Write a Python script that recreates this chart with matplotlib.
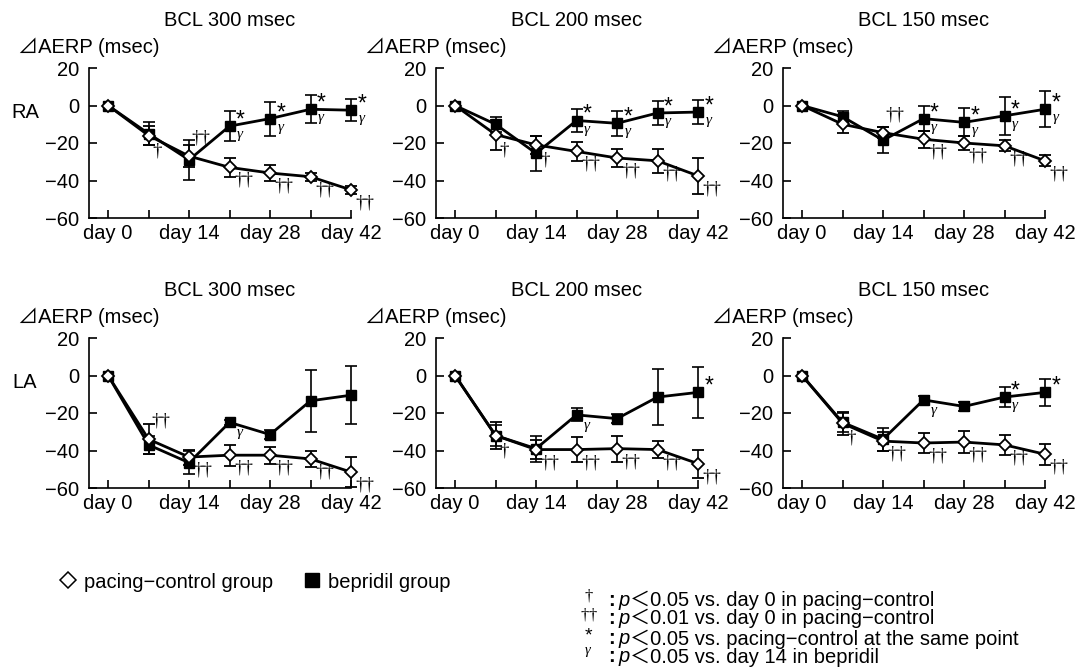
import matplotlib
matplotlib.use("Agg")
import matplotlib.pyplot as plt
from matplotlib.lines import Line2D

# ---- data ----
days = [0, 7, 14, 21, 28, 35, 42]
day_labels = ["day 0", "", "day 14", "", "day 28", "", "day 42"]
y_ticks = [20, 0, -20, -40, -60]

ra300_ctrl = [0, -16, -27, -33, -36, -38, -45]
ra300_ctrl_err = [0, 5, 6, 5, 4.5, 2, 2]
ra300_bep = [0, -15, -29, -11, -7, -2, -2.5]
ra300_bep_err = [0, 6, 10.5, 8, 9, 7.5, 6]
ra300_ctrl_sig = ["", "†", "††", "††", "††", "††", "††"]
ra300_bep_sig = ["", "", "", "*γ", "*γ", "*γ", "*γ"]

ra200_ctrl = [0, -15.5, -21, -24.5, -28, -29.5, -37.5]
ra200_ctrl_err = [0, 8, 5, 5, 5, 6.5, 9.5]
ra200_bep = [0, -10, -25.5, -8, -9.5, -4, -3.5]
ra200_bep_err = [0, 4, 9.5, 6, 6.5, 6.5, 6.5]
ra200_ctrl_sig = ["", "†", "†", "††", "††", "††", "††"]
ra200_bep_sig = ["", "", "", "*γ", "*γ", "*γ", "*γ"]

ra150_ctrl = [0, -10, -14.5, -18, -20, -21.5, -29.5]
ra150_ctrl_err = [0, 4.5, 3, 4.5, 3.5, 3, 3]
ra150_bep = [0, -6, -18.5, -7, -9, -5.5, -2]
ra150_bep_err = [0, 3, 7, 6.5, 7.5, 10, 9.5]
ra150_ctrl_sig = ["", "", "††", "††", "††", "††", "††"]
ra150_bep_sig = ["", "", "", "*γ", "*γ", "*γ", "*γ"]

la300_ctrl = [0, -34, -43.5, -42.5, -42.5, -44.5, -51.5]
la300_ctrl_err = [0, 8, 4, 5.5, 4.5, 4.5, 8]
la300_bep = [0, -37, -46.5, -25, -31.5, -13.5, -10.5]
la300_bep_err = [0, 5, 6, 1.5, 2.5, 16.5, 15.5]
la300_ctrl_sig = ["", "††", "††", "††", "††", "††", "††"]
la300_bep_sig = ["", "", "", "γ", "", "", ""]

la200_ctrl = [0, -32, -39.5, -39.5, -39, -39.5, -47]
la200_ctrl_err = [0, 7, 5, 6.5, 7, 4.5, 7.5]
la200_bep = [0, -32, -39, -21, -23, -11.5, -9]
la200_bep_err = [0, 5.5, 7, 3.5, 2.5, 15, 13.5]
la200_ctrl_sig = ["", "†", "††", "††", "††", "††", "††"]
la200_bep_sig = ["", "", "", "γ", "", "", "*"]

la150_ctrl = [0, -25.5, -35, -36, -35.5, -37, -42]
la150_ctrl_err = [0, 6, 5, 5.5, 6, 5.5, 5.5]
la150_bep = [0, -25, -34, -13, -16.5, -11.5, -9]
la150_bep_err = [0, 5, 6, 2, 2.5, 5.5, 7]
la150_ctrl_sig = ["", "†", "††", "††", "††", "††", "††"]
la150_bep_sig = ["", "", "", "γ", "", "*γ", "*"]

# points where the dagger sits above the marker instead of below
dagger_above = {("RA", 300): [2], ("RA", 150): [2], ("LA", 300): [1]}

footnotes = [
    ("†", "＜0.05 vs. day 0 in pacing−control"),
    ("††", "＜0.01 vs. day 0 in pacing−control"),
    ("*", "＜0.05 vs. pacing−control at the same point"),
    ("γ", "＜0.05 vs. day 14 in bepridil"),
]

panels = [
    ("RA", 300, ra300_ctrl, ra300_ctrl_err, ra300_bep, ra300_bep_err, ra300_ctrl_sig, ra300_bep_sig),
    ("RA", 200, ra200_ctrl, ra200_ctrl_err, ra200_bep, ra200_bep_err, ra200_ctrl_sig, ra200_bep_sig),
    ("RA", 150, ra150_ctrl, ra150_ctrl_err, ra150_bep, ra150_bep_err, ra150_ctrl_sig, ra150_bep_sig),
    ("LA", 300, la300_ctrl, la300_ctrl_err, la300_bep, la300_bep_err, la300_ctrl_sig, la300_bep_sig),
    ("LA", 200, la200_ctrl, la200_ctrl_err, la200_bep, la200_bep_err, la200_ctrl_sig, la200_bep_sig),
    ("LA", 150, la150_ctrl, la150_ctrl_err, la150_bep, la150_bep_err, la150_ctrl_sig, la150_bep_sig),
]

# ---- layout ----
plt.rcParams['font.family'] = ['Liberation Sans', 'Noto Sans CJK JP', 'DejaVu Sans']
plt.rcParams['font.size'] = 14.5
plt.rcParams['mathtext.fontset'] = 'custom'
plt.rcParams['mathtext.rm'] = 'Liberation Serif'
plt.rcParams['mathtext.it'] = 'Liberation Serif:italic'
plt.rcParams['mathtext.sf'] = 'Liberation Sans'

W, H = 1079, 672
fig = plt.figure(figsize=(W / 100, H / 100), dpi=100)


def fx(x):
    return x / W


def fy(y):
    return 1 - y / H


col_left = [89, 436, 783]
row_top = [68, 338]
ax_w, ax_h = 262, 150
PT = 0.72  # points per pixel
serif = ['Liberation Serif', 'DejaVu Serif']
STAR = r"$\mathsf{*}$"
GAMMA = r"$\gamma$"

for k, (site, bcl, ctrl, ctrl_err, bep, bep_err, ctrl_sig, bep_sig) in enumerate(panels):
    r, c = divmod(k, 3)
    left, top = col_left[c], row_top[r]
    ax = fig.add_axes([fx(left), fy(top + ax_h), ax_w / W, ax_h / H])

    ax.errorbar(days, bep, yerr=bep_err, errorevery=(1, 1), color='black', lw=2,
                marker='s', ms=7.2, mfc='black', mec='black', capsize=4,
                elinewidth=1.2, capthick=1.2, clip_on=False, zorder=3)
    ax.errorbar(days, ctrl, yerr=ctrl_err, errorevery=(1, 1), color='black', lw=2,
                marker='D', ms=6.4, mfc='white', mec='black', mew=1.3, capsize=4,
                elinewidth=1.2, capthick=1.2, clip_on=False, zorder=4)

    ax.set_xlim(-3.3, 42)
    ax.set_ylim(-60, 20)
    ax.set_xticks(days)
    ax.set_xticklabels(day_labels)
    ax.set_yticks(y_ticks)
    ax.tick_params(direction='in', length=6, width=1.2)
    ax.tick_params(axis='y', pad=7)
    ax.tick_params(axis='x', pad=4)
    for s in ['top', 'right']:
        ax.spines[s].set_visible(False)
    for s in ['left', 'bottom']:
        ax.spines[s].set_linewidth(1.2)

    above = dagger_above.get((site, bcl), [])
    for i, s in enumerate(ctrl_sig):
        if not s:
            continue
        if i in above:
            off = (12, 18)
        elif s == "††":
            off = (14, -13)
        else:
            off = (9, -15)
        ax.annotate(s, (days[i], ctrl[i]), xytext=(off[0] * PT, off[1] * PT),
                    textcoords='offset points', ha='center', va='center',
                    fontsize=13.5, family=serif, annotation_clip=False)
    for i, s in enumerate(bep_sig):
        if "*" in s:
            ax.annotate(STAR, (days[i], bep[i]), xytext=(11 * PT, 7 * PT),
                        textcoords='offset points', ha='center', va='center',
                        fontsize=16.5, annotation_clip=False)
        if "γ" in s:
            dy = -10 if "*" in s else -12
            ax.annotate(GAMMA, (days[i], bep[i]), xytext=(11 * PT, dy * PT),
                        textcoords='offset points', ha='center', va='center',
                        fontsize=11, annotation_clip=False)

    fig.text(fx(left + 141), fy(top - 48), f"BCL {bcl} msec", ha='center', va='center')
    fig.text(fx(left - 71), fy(top - 21), "⊿AERP (msec)", ha='left', va='center')
    if c == 0:
        fig.text(fx(25), fy(top + 45), site, ha='center', va='center')

# legend
handles = [
    Line2D([], [], ls='none', marker='D', ms=8, mfc='white', mec='black', mew=1.1),
    Line2D([], [], ls='none', marker='s', ms=10.5, mfc='black', mec='black'),
]
fig.legend(handles, ["pacing−control group", "bepridil group"], loc='center left',
           bbox_to_anchor=(fx(58), fy(582)), ncol=2, frameon=False,
           handlelength=1.0, handletextpad=0.3, columnspacing=1.4,
           borderpad=0, borderaxespad=0, fontsize=14.5)

# footnotes
foot_y = [600, 618.5, 639, 657]
for (sym, txt), y in zip(footnotes, foot_y):
    if sym == "*":
        fig.text(fx(589), fy(y - 4), STAR, ha='center', va='center', fontsize=14)
    elif sym == "γ":
        fig.text(fx(588), fy(y - 5), GAMMA, ha='center', va='center', fontsize=10.5)
    else:
        fig.text(fx(589), fy(y - 4), "$\\mathrm{" + sym + "}$", ha='center',
                 va='center', fontsize=12)
    fig.text(fx(611), fy(y), ":", ha='center', va='center', fontsize=14.5, weight='bold')
    fig.text(fx(619), fy(y), "p", ha='left', va='center', style='italic')
    fig.text(fx(630), fy(y), txt, ha='left', va='center')

fig.savefig("out.png", dpi=100)
